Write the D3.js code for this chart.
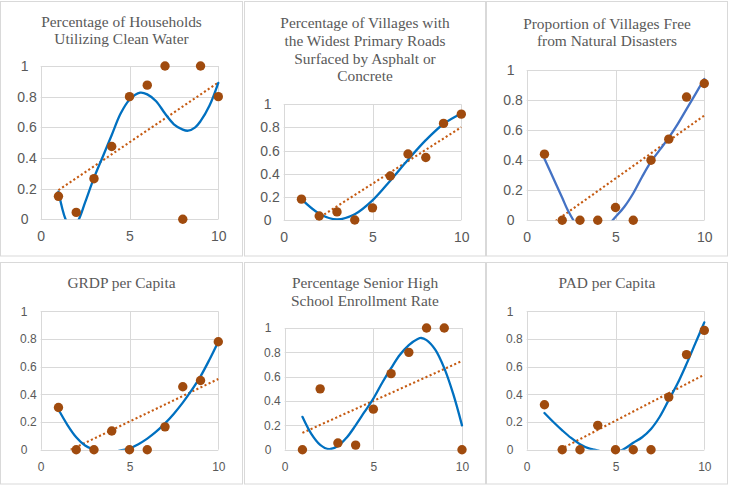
<!DOCTYPE html>
<html>
<head>
<meta charset="utf-8">
<script src="https://cdn.jsdelivr.net/npm/d3@7"></script>
<style>
  html, body { margin: 0; padding: 0; background: #fff; }
  svg { display: block; }
</style>
</head>
<body>
<svg id="chart" width="729" height="486"></svg>
<script>
// ---------------- DATA ----------------
const xValues = [1, 2, 3, 4, 5, 6, 7, 8, 9, 10];
const xTickValues = [0, 5, 10];
const yTickValues = [0, 0.2, 0.4, 0.6, 0.8, 1];

const titleWater = ["Percentage of Households", "Utilizing Clean Water"];
const titleRoads = ["Percentage of Villages with", "the Widest Primary Roads", "Surfaced by Asphalt or", "Concrete"];
const titleDisaster = ["Proportion of Villages Free", "from Natural Disasters"];
const titleGRDP = ["GRDP per Capita"];
const titleSchool = ["Percentage Senior High", "School Enrollment Rate"];
const titlePAD = ["PAD per Capita"];

// observed values
const valuesWater    = [0.15, 0.045, 0.265, 0.475, 0.80, 0.875, 1.00, 0.00, 1.00, 0.80];
const valuesRoads    = [0.18, 0.035, 0.07, 0.00, 0.105, 0.38, 0.57, 0.54, 0.835, 0.915];
const valuesDisaster = [0.44, 0.00, 0.00, 0.00, 0.085, 0.00, 0.40, 0.54, 0.82, 0.91];
const valuesGRDP     = [0.305, 0.00, 0.00, 0.135, 0.00, 0.00, 0.165, 0.455, 0.50, 0.78];
const valuesSchool   = [0.00, 0.50, 0.055, 0.038, 0.333, 0.625, 0.80, 1.00, 1.00, 0.00];
const valuesPAD      = [0.325, 0.00, 0.00, 0.176, 0.00, 0.00, 0.00, 0.38, 0.687, 0.862];

// linear trendline values at x = 1 and x = 10
const linearX = [1, 10];
const linearWater    = [0.19, 0.892];
const linearRoads    = [-0.077, 0.802];
const linearDisaster = [-0.057, 0.697];
const linearGRDP     = [-0.043, 0.511];
const linearSchool   = [0.138, 0.729];
const linearPAD      = [-0.057, 0.542];

// polynomial trendline
const polyXWater = [1, 1.4, 1.75, 2.15, 2.5, 3, 3.5, 4, 4.5, 5, 5.6, 6, 6.5, 7, 7.5, 8, 8.3, 8.7, 9, 9.5, 10];
const polyYWater = [0.18, 0, -0.07, 0, 0.11, 0.27, 0.41, 0.55, 0.69, 0.78, 0.826, 0.815, 0.77, 0.69, 0.62, 0.585, 0.578, 0.6, 0.64, 0.74, 0.89];

const polyXRoads = [1, 2, 3, 4, 5, 6, 7, 8, 9, 10];
const polyYRoads = [0.18, 0.055, 0.005, 0.05, 0.17, 0.34, 0.52, 0.69, 0.83, 0.92];

const polyXDisaster = [1, 1.5, 2, 2.3, 2.63, 3, 3.7, 4.3, 4.84, 5.5, 6, 6.5, 7, 7.5, 8, 8.5, 9, 9.5, 10];
const polyYDisaster = [0.41, 0.28, 0.15, 0.07, 0, -0.08, -0.12, -0.08, 0, 0.09, 0.18, 0.29, 0.39, 0.47, 0.55, 0.64, 0.74, 0.84, 0.94];

const polyXGRDP = [1, 1.5, 2, 2.5, 3, 3.5, 4, 4.5, 5, 5.5, 6, 6.5, 7, 7.5, 8, 8.5, 9, 9.5, 10];
const polyYGRDP = [0.29, 0.18, 0.09, 0.03, 0.0, -0.02, -0.02, -0.005, 0.01, 0.04, 0.08, 0.13, 0.19, 0.26, 0.34, 0.43, 0.53, 0.65, 0.78];

const polyXSchool = [1, 1.5, 2, 2.5, 3, 3.5, 4, 4.5, 5, 5.5, 6, 6.5, 7, 7.5, 7.7, 8, 8.5, 9, 9.5, 10];
const polyYSchool = [0.27, 0.13, 0.04, 0.005, 0.03, 0.1, 0.2, 0.31, 0.42, 0.55, 0.67, 0.78, 0.86, 0.91, 0.918, 0.9, 0.82, 0.67, 0.46, 0.2];

const polyXPAD = [1, 1.5, 2, 2.5, 3, 3.5, 3.8, 4.6, 5.4, 6, 6.5, 7, 7.5, 8, 8.5, 9, 9.5, 10];
const polyYPAD = [0.265, 0.2, 0.14, 0.085, 0.04, 0.01, 0, -0.02, 0, 0.05, 0.09, 0.15, 0.24, 0.36, 0.48, 0.62, 0.77, 0.92];

// ---------------- LAYOUT / STYLE ----------------
const panels = [
  { title: titleWater, values: valuesWater, lin: linearWater, px: polyXWater, py: polyYWater,
    box: [0.5, 1.5, 242, 254.5], plot: [40.7, 66, 218.3, 219.3], titleY: [26.7, 44.2], tick: 14, polyColor: "#0070C0" },
  { title: titleRoads, values: valuesRoads, lin: linearRoads, px: polyXRoads, py: polyYRoads,
    box: [244.5, 1.5, 241, 254.5], plot: [283.7, 104.3, 461.3, 220], titleY: [28.3, 46, 63.7, 81.4], tick: 14, polyColor: "#0070C0" },
  { title: titleDisaster, values: valuesDisaster, lin: linearDisaster, px: polyXDisaster, py: polyYDisaster,
    box: [486.5, 1.5, 241, 254.5], plot: [526.7, 70, 704.3, 220.3], titleY: [28.7, 46.4], tick: 14, polyColor: "#4472C4" },
  { title: titleGRDP, values: valuesGRDP, lin: linearGRDP, px: polyXGRDP, py: polyYGRDP,
    box: [0.5, 262.5, 242, 221.5], plot: [40.7, 311.3, 218.3, 449.7], titleY: [288], tick: 12, polyColor: "#0070C0" },
  { title: titleSchool, values: valuesSchool, lin: linearSchool, px: polyXSchool, py: polyYSchool,
    box: [244.5, 262.5, 241, 221.5], plot: [284.7, 328, 462, 449.7], titleY: [288, 305.5], tick: 12, polyColor: "#0070C0" },
  { title: titlePAD, values: valuesPAD, lin: linearPAD, px: polyXPAD, py: polyYPAD,
    box: [486.5, 262.5, 241, 221.5], plot: [526.7, 311.3, 704.3, 449.7], titleY: [288], tick: 12, polyColor: "#0070C0" }
];

const svg = d3.select("#chart");
const gridColor = "#D9D9D9";
const textColor = "#595959";
const markerColor = "#A04B0E";
const linColor = "#C55A11";

panels.forEach((p, i) => {
  const g = svg.append("g");
  const [bx, by, bw, bh] = p.box;
  g.append("rect").attr("x", bx).attr("y", by).attr("width", bw).attr("height", bh)
    .attr("fill", "#fff").attr("stroke", gridColor).attr("stroke-width", 1);

  const [x0, y1, x1, y0] = p.plot;
  const x = d3.scaleLinear().domain([0, 10]).range([x0, x1]);
  const y = d3.scaleLinear().domain([0, 1]).range([y0, y1]);

  // title
  const cx = bx + bw / 2;
  g.append("g").selectAll("text").data(p.title).join("text")
    .attr("x", cx).attr("y", (d, k) => p.titleY[k])
    .attr("text-anchor", "middle")
    .attr("font-family", "'Liberation Serif', 'Times New Roman', serif")
    .attr("font-size", 15.4).attr("fill", textColor)
    .text(d => d);

  // horizontal gridlines
  g.append("g").selectAll("line").data(yTickValues).join("line")
    .attr("x1", x0).attr("x2", x1)
    .attr("y1", d => Math.round(y(d)) + 0.5).attr("y2", d => Math.round(y(d)) + 0.5)
    .attr("stroke", gridColor).attr("stroke-width", 1);
  // vertical gridlines
  g.append("g").selectAll("line").data(xTickValues).join("line")
    .attr("x1", d => Math.round(x(d)) + 0.5).attr("x2", d => Math.round(x(d)) + 0.5)
    .attr("y1", y1).attr("y2", y0)
    .attr("stroke", gridColor).attr("stroke-width", 1);

  // axes via d3 axis generators (labels only)
  const yAxis = d3.axisLeft(y).tickValues(yTickValues).tickSize(0).tickFormat(d3.format("~g"));
  const ya = g.append("g").attr("transform", `translate(${x0 - 4},0)`).call(yAxis);
  ya.select(".domain").remove();
  ya.selectAll("text")
    .attr("font-family", "'Liberation Sans', Arial, sans-serif")
    .attr("font-size", p.tick).attr("fill", textColor)
    .attr("x", d => (Number.isInteger(d) ? -16 : 0))
    .attr("text-anchor", d => (Number.isInteger(d) ? "start" : "end"));

  const xAxis = d3.axisBottom(x).tickValues(xTickValues).tickSize(0).tickFormat(d3.format("~g"));
  const xa = g.append("g").attr("transform", `translate(0,${y0})`).call(xAxis);
  xa.select(".domain").remove();
  xa.selectAll("text")
    .attr("font-family", "'Liberation Sans', Arial, sans-serif")
    .attr("font-size", p.tick).attr("fill", textColor)
    .attr("dy", null).attr("y", 21.5);

  // clip for trendlines
  const clipId = "clip" + i;
  svg.append("clipPath").attr("id", clipId).append("rect")
    .attr("x", x0 - 6).attr("y", y1 - 6).attr("width", x1 - x0 + 12).attr("height", y0 - y1 + 6);

  // linear trendline (dotted)
  const linData = linearX.map((xv, k) => [xv, p.lin[k]]);
  g.append("path").datum(linData)
    .attr("clip-path", `url(#${clipId})`)
    .attr("d", d3.line().x(d => x(d[0])).y(d => y(d[1])))
    .attr("fill", "none").attr("stroke", linColor).attr("stroke-width", 2.1)
    .attr("stroke-dasharray", "2.1 2.4");

  // polynomial trendline
  const polyData = p.px.map((xv, k) => [xv, p.py[k]]);
  g.append("path").datum(polyData)
    .attr("clip-path", `url(#${clipId})`)
    .attr("d", d3.line().curve(d3.curveCatmullRom.alpha(0.5)).x(d => x(d[0])).y(d => y(d[1])))
    .attr("fill", "none").attr("stroke", p.polyColor).attr("stroke-width", 2.3)
    .attr("stroke-linecap", "round");

  // markers
  g.append("g").selectAll("circle").data(xValues.map((xv, k) => [xv, p.values[k]])).join("circle")
    .attr("cx", d => x(d[0])).attr("cy", d => y(d[1])).attr("r", 4.7)
    .attr("fill", markerColor);
});
</script>
</body>
</html>
